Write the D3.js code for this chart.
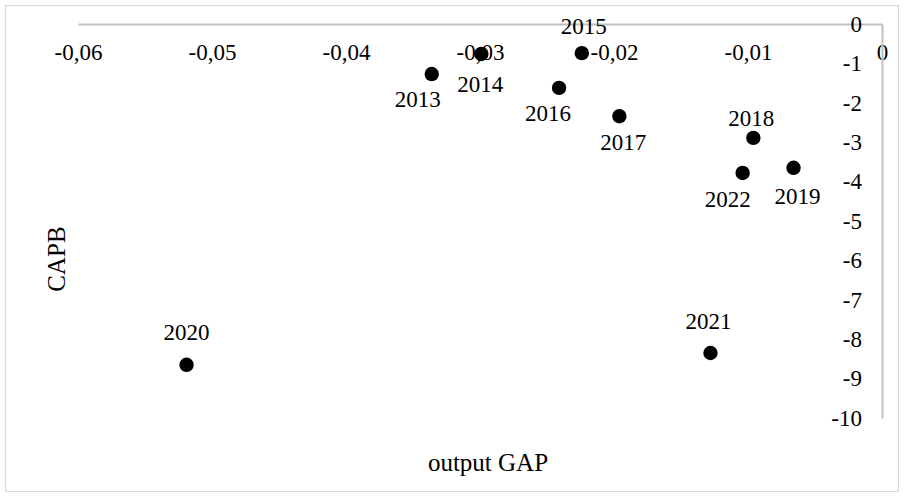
<!DOCTYPE html>
<html>
<head>
<meta charset="utf-8">
<script src="https://cdn.jsdelivr.net/npm/d3@7"></script>
<style>
  html, body { margin: 0; padding: 0; background: #ffffff; }
  svg { display: block; }
</style>
</head>
<body>
<svg id="chart" width="904" height="497"></svg>
<script>
// ---- data ----
const years = [2013, 2014, 2015, 2016, 2017, 2018, 2019, 2020, 2021, 2022];
const outputGap = [-0.0336, -0.0299, -0.0224, -0.0241, -0.0196, -0.0096, -0.0066, -0.0519, -0.0128, -0.0104];
const capb = [-1.27, -0.76, -0.74, -1.62, -2.34, -2.89, -3.65, -8.65, -8.35, -3.78];
const xTicks = [-0.06, -0.05, -0.04, -0.03, -0.02, -0.01, 0];
const xTickLabels = ["-0,06", "-0,05", "-0,04", "-0,03", "-0,02", "-0,01", "0"];
const yTicks = [0, -1, -2, -3, -4, -5, -6, -7, -8, -9, -10];
const yTickLabels = ["0", "-1", "-2", "-3", "-4", "-5", "-6", "-7", "-8", "-9", "-10"];
const xTitle = "output GAP";
const yTitle = "CAPB";

// ---- label placement (style) ----
const labelOffsets = [[-14, 25], [-1, 31], [2, -27], [-11, 26], [4, 26], [-2, -19], [4, 29], [0, -32], [-2, -31], [-15, 27]];

// ---- layout ----
const FONT = "'Liberation Serif', 'Times New Roman', serif";
const svg = d3.select("#chart");
const W = 904, H = 497;
const plot = { left: 78, right: 882, top: 24, bottom: 418 };
const fontSize = 23;

svg.append("rect")
  .attr("x", 5.5).attr("y", 5.5)
  .attr("width", W - 11).attr("height", H - 11)
  .attr("fill", "#fff").attr("stroke", "#d9d9d9").attr("stroke-width", 1.2);

const x = d3.scaleLinear().domain([-0.06, 0]).range([plot.left, plot.right]);
const y = d3.scaleLinear().domain([-10, 0]).range([plot.bottom, plot.top]);

// x axis (at y = 0, top), labels below the line
const xAxis = d3.axisBottom(x)
  .tickValues(xTicks)
  .tickSize(0)
  .tickPadding(20)
  .tickFormat((d, i) => xTickLabels[i]);
const gx = svg.append("g")
  .attr("transform", `translate(0,${y(0)})`)
  .call(xAxis)
  .attr("font-family", null).attr("font-size", null)
  .style("font-family", FONT);
gx.select(".domain").attr("stroke", "#bfbfbf").attr("stroke-width", 2);
gx.selectAll(".tick text")
  .style("font-family", FONT)
  .style("font-size", fontSize + "px")
  .attr("fill", "#000")
  .attr("dy", "0.32em")
  .attr("y", 29);

// y axis (at x = 0, right), labels left of line
const yAxis = d3.axisLeft(y)
  .tickValues(yTicks)
  .tickSize(0)
  .tickPadding(20)
  .tickFormat((d, i) => yTickLabels[i]);
const gy = svg.append("g")
  .attr("transform", `translate(${x(0)},0)`)
  .call(yAxis)
  .attr("font-family", null).attr("font-size", null)
  .style("font-family", FONT);
gy.select(".domain").attr("stroke", "#bfbfbf").attr("stroke-width", 2);
gy.selectAll(".tick text")
  .style("font-family", FONT)
  .style("font-size", fontSize + "px")
  .attr("fill", "#000");

// axis titles
svg.append("text")
  .attr("x", 488).attr("y", 462)
  .attr("text-anchor", "middle")
  .attr("dominant-baseline", "central")
  .style("font-family", FONT)
  .style("font-size", "25px")
  .text(xTitle);
svg.append("text")
  .attr("transform", `translate(56,${(plot.top + plot.bottom) / 2 + 38}) rotate(-90)`)
  .attr("text-anchor", "middle")
  .attr("dominant-baseline", "central")
  .style("font-family", FONT)
  .style("font-size", "25px")
  .text(yTitle);

// points
const data = years.map((yr, i) => ({ yr, gx: outputGap[i], cb: capb[i], off: labelOffsets[i] }));

svg.append("g").selectAll("text")
  .data(data).join("text")
  .attr("x", d => x(d.gx) + d.off[0])
  .attr("y", d => y(d.cb) + d.off[1])
  .attr("text-anchor", "middle")
  .attr("dominant-baseline", "central")
  .style("font-family", FONT)
  .style("font-size", fontSize + "px")
  .text(d => d.yr);

svg.append("g").selectAll("circle")
  .data(data).join("circle")
  .attr("cx", d => x(d.gx))
  .attr("cy", d => y(d.cb))
  .attr("r", 7.2)
  .attr("fill", "#000");
</script>
</body>
</html>
